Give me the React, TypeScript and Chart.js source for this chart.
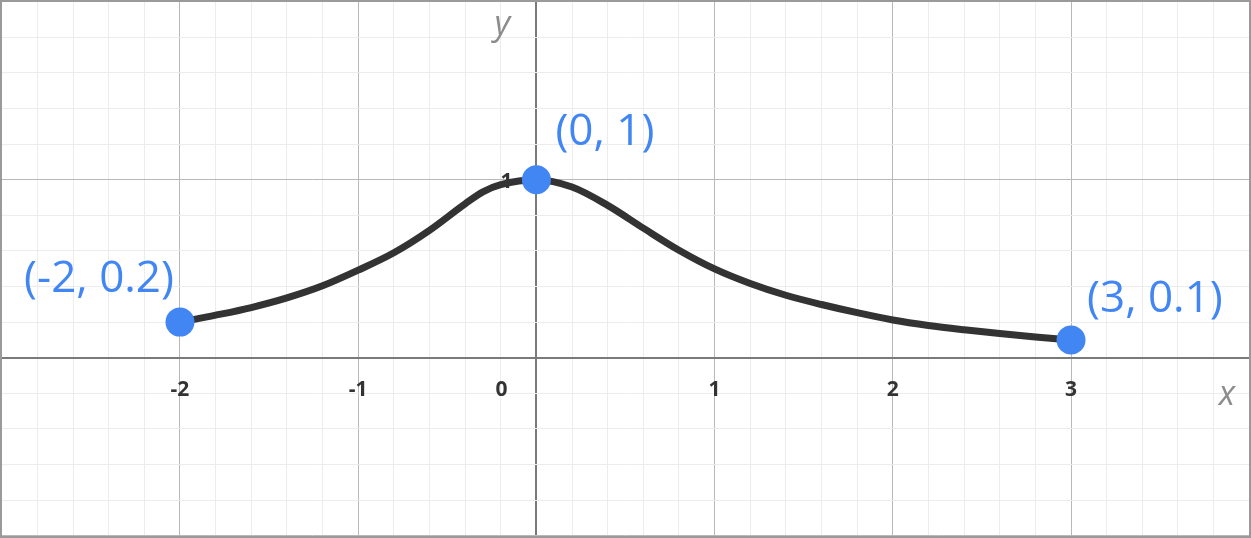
import React, { useEffect, useRef } from "react";
import { Chart, registerables } from "chart.js";

Chart.register(...registerables);

// ---- data ----
const curveX = [-2, -1.8, -1.6, -1.4, -1.2, -1, -0.8, -0.6, -0.4, -0.3, -0.2, 0, 0.2, 0.4, 0.6, 0.8, 1, 1.2, 1.4, 1.6, 1.8, 2, 2.2, 2.4, 2.6, 2.8, 3];
const curveY = [0.2, 0.239, 0.282, 0.336, 0.404, 0.492, 0.59, 0.716, 0.865, 0.932, 0.972, 1, 0.959, 0.856, 0.728, 0.604, 0.499, 0.417, 0.351, 0.299, 0.253, 0.212, 0.181, 0.157, 0.136, 0.117, 0.1];

const pointX = [-2, 0, 3];
const pointY = [0.2, 1, 0.1];
const pointLabels = ["(-2, 0.2)", "(0, 1)", "(3, 0.1)"];

const xTickValues = [-2, -1, 0, 1, 2, 3];
const xTickLabels = ["-2", "-1", "0", "1", "2", "3"];
const yTickValues = [1];
const yTickLabels = ["1"];

const xAxisName = "x";
const yAxisName = "y";

const X_MIN = -3.01;
const X_MAX = 4.01;
const Y_MIN = -1.013;
const Y_MAX = 2.01;

const BLUE = "#4286f4";
const LABEL_FONT = "44px 'Open Sans'";
const TICK_FONT = "bold 21px 'Open Sans'";
const AXIS_NAME_FONT = "italic 34px 'Open Sans'";

// per-label placement (pixel offsets from the point)
const labelPlacement = [
  { align: "right" as CanvasTextAlign, dx: -6, dy: -30 },
  { align: "left" as CanvasTextAlign, dx: 19, dy: -35 },
  { align: "left" as CanvasTextAlign, dx: 16, dy: -28 },
];

const isZero = (v: number) => Math.abs(v) < 1e-6;
const isMajor = (v: number) => Math.abs(v - Math.round(v)) < 1e-6;

const gridColor = (ctx: any) => {
  const v = ctx.tick ? ctx.tick.value : 1.1;
  if (isZero(v)) return "#7a7a7a";
  if (isMajor(v)) return "#b8b8b8";
  return "#ececec";
};
const gridWidth = (ctx: any) => {
  const v = ctx.tick ? ctx.tick.value : 1.1;
  if (isZero(v)) return 2;
  return 1;
};

const underPlugin = {
  id: "underLabels",
  beforeDatasetsDraw(chart: any) {
    const { ctx, scales } = chart;
    const xs = scales.x;
    const ys = scales.y;
    const x0 = xs.getPixelForValue(0);
    const y0 = ys.getPixelForValue(0);
    ctx.save();
    ctx.fillStyle = "#333333";
    ctx.font = TICK_FONT;
    ctx.textAlign = "center";
    ctx.textBaseline = "middle";
    xTickValues.forEach((v, i) => {
      let px = xs.getPixelForValue(v);
      if (isZero(v)) px -= 35;
      ctx.fillText(xTickLabels[i], px, y0 + 32);
    });
    ctx.textAlign = "right";
    yTickValues.forEach((v, i) => {
      ctx.fillText(yTickLabels[i], x0 - 24, ys.getPixelForValue(v) + 2);
    });
    ctx.fillStyle = "#8c8c8c";
    ctx.font = AXIS_NAME_FONT;
    ctx.textAlign = "center";
    ctx.textBaseline = "alphabetic";
    ctx.fillText(yAxisName, x0 - 34, 35);
    ctx.fillText(xAxisName, chart.width - 24, y0 + 47);
    ctx.restore();
  },
  afterDatasetsDraw(chart: any) {
    const { ctx, scales } = chart;
    ctx.save();
    ctx.fillStyle = BLUE;
    ctx.font = LABEL_FONT;
    ctx.textBaseline = "alphabetic";
    pointX.forEach((x, i) => {
      const p = labelPlacement[i];
      ctx.textAlign = p.align;
      ctx.fillText(
        pointLabels[i],
        scales.x.getPixelForValue(x) + p.dx,
        scales.y.getPixelForValue(pointY[i]) + p.dy
      );
    });
    ctx.restore();
  },
  afterDraw(chart: any) {
    const { ctx } = chart;
    ctx.save();
    ctx.strokeStyle = "#9a9a9a";
    ctx.lineWidth = 2;
    ctx.strokeRect(1, 1, chart.width - 2, chart.height - 2);
    ctx.restore();
  },
};

export default function App() {
  const canvasRef = useRef<HTMLCanvasElement | null>(null);

  useEffect(() => {
    document.body.style.margin = "0";
    const canvas = canvasRef.current;
    if (!canvas) return;
    const chart = new Chart(canvas, {
      type: "line",
      data: {
        datasets: [
          {
            type: "scatter",
            label: "points",
            data: pointX.map((x, i) => ({ x, y: pointY[i] })),
            backgroundColor: BLUE,
            borderColor: BLUE,
            borderWidth: 0,
            pointRadius: 14.5,
            pointHoverRadius: 14.5,
            order: 0,
          } as any,
          {
            type: "line",
            label: "curve",
            data: curveX.map((x, i) => ({ x, y: curveY[i] })),
            borderColor: "#333333",
            borderWidth: 7,
            pointRadius: 0,
            fill: false,
            cubicInterpolationMode: "monotone",
            borderCapStyle: "round",
            borderJoinStyle: "round",
            order: 1,
          } as any,
        ],
      },
      options: {
        animation: false,
        responsive: false,
        maintainAspectRatio: false,
        events: [],
        layout: { padding: 0, autoPadding: false },
        plugins: {
          legend: { display: false },
          tooltip: { enabled: false },
          title: { display: false },
        },
        scales: {
          x: {
            type: "linear",
            min: X_MIN,
            max: X_MAX,
            border: { display: false },
            ticks: { display: false, stepSize: 0.2, includeBounds: false },
            grid: { color: gridColor, lineWidth: gridWidth, drawTicks: false },
          },
          y: {
            type: "linear",
            min: Y_MIN,
            max: Y_MAX,
            border: { display: false },
            ticks: { display: false, stepSize: 0.2, includeBounds: false },
            grid: { color: gridColor, lineWidth: gridWidth, drawTicks: false },
          },
        },
      } as any,
      plugins: [underPlugin],
    });
    return () => chart.destroy();
  }, []);

  return (
    <div style={{ width: 1251, height: 538, background: "#ffffff" }}>
      <canvas ref={canvasRef} width={1251} height={538} style={{ display: "block" }} />
    </div>
  );
}
